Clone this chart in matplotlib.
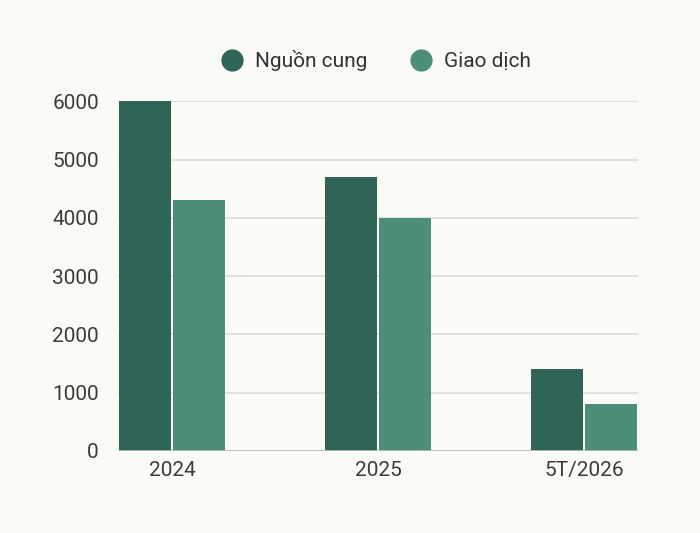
import numpy as np
import matplotlib.pyplot as plt
from matplotlib.lines import Line2D

# du lieu
categories = ['2024', '2025', '5T/2026']
nguon_cung = [6000, 4700, 1400]
giao_dich = [4300, 4000, 800]
series_names = ['Nguồn cung', 'Giao dịch']

plt.rcParams['font.family'] = ['Roboto', 'DejaVu Sans']

bg = '#fafaf6'
c_dark = '#2f6456'
c_light = '#4d8e7a'

fig = plt.figure(figsize=(7, 5.33), dpi=100, facecolor=bg)
ax = fig.add_axes([0.169, 0.154, 0.742, 0.656], facecolor=bg)

x = np.arange(len(categories))
w = 0.25
ax.bar(x - 0.1315, nguon_cung, w, color=c_dark, zorder=3)
ax.bar(x + 0.1315, giao_dich, w, color=c_light, zorder=3)

ax.set_xlim(-0.26, 2.26)
ax.set_ylim(0, 6000)
ax.set_yticks(range(0, 6001, 1000))
ax.set_xticks(x)
ax.set_xticklabels(categories)
ax.yaxis.grid(True, color='#dcdcd8', linewidth=1.2, zorder=0)
ax.tick_params(length=0, labelsize=15, labelcolor='#3c3c3c')
ax.tick_params(axis='y', pad=14)
ax.tick_params(axis='x', pad=7)
for s in ax.spines.values():
    s.set_visible(False)
ax.axhline(0, color='#bdbdb8', linewidth=1.2, zorder=4)

handles = [Line2D([], [], marker='o', linestyle='', markersize=15, color=c) for c in (c_dark, c_light)]
fig.legend(handles, series_names, loc='center', bbox_to_anchor=(0.53, 0.886), ncol=2,
           frameon=False, fontsize=15, handletextpad=0.1, columnspacing=1.6,
           labelcolor='#333333')

fig.savefig('out.png', dpi=100, facecolor=bg)
